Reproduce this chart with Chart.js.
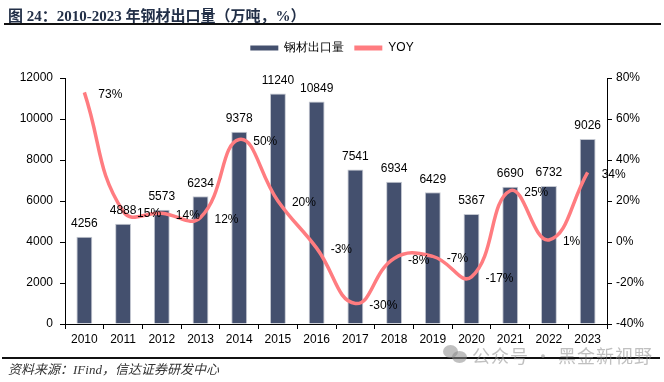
<!DOCTYPE html>
<html><head><meta charset="utf-8">
<script src="https://cdn.jsdelivr.net/npm/chart.js@4"></script>
<style>
html,body{margin:0;padding:0;background:#fff;}
#wrap{position:relative;width:664px;height:382px;overflow:hidden;background:#fff;}
#c{position:absolute;left:0;top:0;}
.title{position:absolute;left:8px;top:4px;font:bold 15px "Liberation Serif","Noto Sans CJK SC";color:#233048;white-space:nowrap;}
.tline{position:absolute;left:4px;top:23px;width:657px;height:2px;background:#111;}
.fline{position:absolute;left:2px;top:357px;width:658px;height:2px;background:#111;}
.foot{position:absolute;left:8px;top:359px;font:italic 13px "Liberation Serif","Noto Sans CJK SC";color:#333;white-space:nowrap;}
.wm{position:absolute;left:472px;top:342px;font:18px "Noto Sans CJK SC";color:rgba(140,140,140,0.55);white-space:nowrap;letter-spacing:1px;}
.ic1{position:absolute;left:443px;top:345px;width:15px;height:13px;border-radius:50%;background:rgba(140,140,140,0.55);}
.ic2{position:absolute;left:452px;top:351px;width:15px;height:12px;border-radius:50%;background:rgba(140,140,140,0.55);}
</style></head>
<body>
<div id="wrap">
<canvas id="c" width="664" height="382"></canvas>
<div class="title">图 24：2010-2023 年钢材出口量（万吨，%）</div>
<div class="tline"></div>
<div class="fline"></div>
<div class="foot">资料来源：IFind，信达证券研发中心</div>
<div class="ic1"></div><div class="ic2"></div>
<div class="wm">公众号 · 黑金新视野</div>
</div>
<script>
const years = ['2010','2011','2012','2013','2014','2015','2016','2017','2018','2019','2020','2021','2022','2023'];
const exportVolume = [4256,4888,5573,6234,9378,11240,10849,7541,6934,6429,5367,6690,6732,9026];
const yoy = [73,15,14,12,50,20,-3,-30,-8,-7,-17,25,1,34];
const seriesNames = ['钢材出口量','YOY'];

Chart.defaults.font.family = '"Liberation Sans", Arial, sans-serif';
Chart.defaults.font.size = 12;
Chart.defaults.color = '#000';

const labelPlugin = {
  id: 'valueLabels',
  afterDatasetsDraw(chart) {
    const ctx = chart.ctx;
    ctx.save();
    ctx.font = '12px "Liberation Sans", Arial';
    ctx.fillStyle = '#000';
    ctx.textAlign = 'center';
    ctx.textBaseline = 'middle';
    chart.getDatasetMeta(0).data.forEach((el, i) => {
      ctx.fillText(String(exportVolume[i]), el.x, el.y - 13);
    });
    ctx.textAlign = 'left';
    chart.getDatasetMeta(1).data.forEach((el, i) => {
      ctx.fillText(yoy[i] + '%', el.x + 14, el.y + 2);
    });
    ctx.restore();
  }
};

const axisGrid = {display: true, drawOnChartArea: false, drawTicks: true, tickLength: 5, color: '#000', lineWidth: 1};

new Chart(document.getElementById('c'), {
  data: {
    labels: years,
    datasets: [
      {type: 'bar', label: seriesNames[0], data: exportVolume, yAxisID: 'y',
       backgroundColor: '#44506E', borderColor: '#c3c7d0', borderWidth: 1,
       barPercentage: 0.41, categoryPercentage: 1.0, order: 1},
      {type: 'line', label: seriesNames[1], data: yoy, yAxisID: 'y1',
       borderColor: '#FF7C80', backgroundColor: '#FF7C80', borderWidth: 3.5,
       pointRadius: 0, tension: 0.45, fill: false, order: 0}
    ]
  },
  options: {
    responsive: false,
    animation: false,
    layout: {padding: {top: 32, bottom: 34, left: 0, right: 0}},
    plugins: {
      legend: {
        display: true, position: 'top',
        labels: {
          boxWidth: 28, boxHeight: 5, padding: 10,
          font: {size: 12},
          color: '#000',
          generateLabels(chart) {
            const items = Chart.defaults.plugins.legend.labels.generateLabels(chart);
            items.forEach(it => { it.lineWidth = 0; it.strokeStyle = 'rgba(0,0,0,0)'; });
            return items.sort((a, b) => a.datasetIndex - b.datasetIndex);
          }
        }
      },
      subtitle: {
        display: true, text: ' ', weight: 500, position: 'top',
        font: {size: 1, lineHeight: 1}, padding: {top: 6, bottom: 7}
      },
      tooltip: {enabled: false}
    },
    scales: {
      x: {
        offset: true,
        grid: Object.assign({offset: true}, axisGrid),
        border: {display: true, color: '#000', width: 1},
        ticks: {padding: 3, maxRotation: 0, autoSkip: false, color: '#000'},
        afterFit(s) { s.height = 24; }
      },
      y: {
        position: 'left', min: 0, max: 12000,
        grid: axisGrid,
        border: {display: true, color: '#000', width: 1},
        ticks: {stepSize: 2000, padding: 7, color: '#000', callback: v => String(v)},
        afterFit(s) { s.width = 65; }
      },
      y1: {
        position: 'right', min: -40, max: 80,
        grid: axisGrid,
        border: {display: true, color: '#000', width: 1},
        ticks: {stepSize: 20, padding: 4, color: '#000', callback: v => v + '%'},
        afterFit(s) { s.width = 57; }
      }
    }
  },
  plugins: [labelPlugin]
});
</script>
</body></html>
